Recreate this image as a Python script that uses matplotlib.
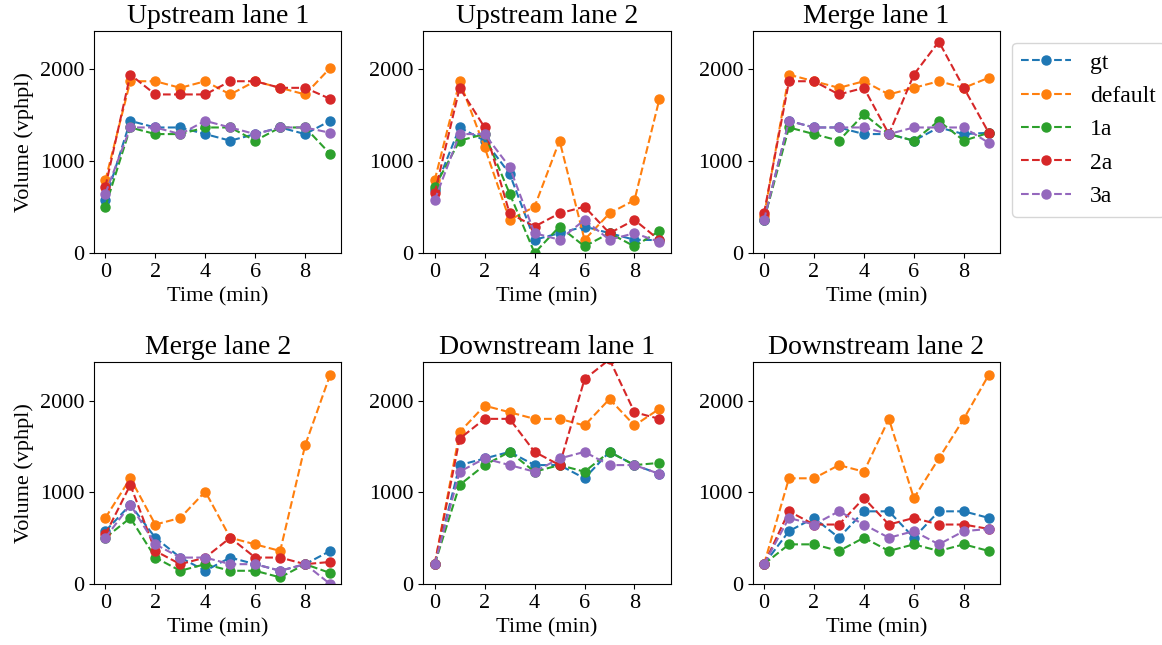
import numpy as np
import matplotlib
matplotlib.use("Agg")
import matplotlib.pyplot as plt

plt.rcParams["font.family"] = ["Liberation Serif", "DejaVu Serif"]

times = list(range(10))
methods = ["gt", "default", "1a", "2a", "3a"]
titles = ["Upstream lane 1", "Upstream lane 2", "Merge lane 1",
          "Merge lane 2", "Downstream lane 1", "Downstream lane 2"]

# volume (vphpl) per panel, per method
up1 = {
    "gt":      [576, 1440, 1368, 1368, 1296, 1224, 1296, 1368, 1296, 1440],
    "default": [792, 1872, 1872, 1800, 1872, 1728, 1872, 1800, 1728, 2016],
    "1a":      [504, 1368, 1296, 1296, 1368, 1368, 1224, 1368, 1368, 1080],
    "2a":      [720, 1944, 1728, 1728, 1728, 1872, 1872, 1800, 1800, 1680],
    "3a":      [648, 1368, 1368, 1296, 1440, 1368, 1296, 1368, 1368, 1310],
}
up2 = {
    "gt":      [690, 1368, 1224, 864, 144, 216, 288, 216, 144, 140],
    "default": [792, 1872, 1152, 360, 504, 1224, 144, 432, 576, 1680],
    "1a":      [720, 1224, 1296, 648, 0, 288, 72, 216, 72, 240],
    "2a":      [650, 1800, 1368, 432, 288, 432, 504, 216, 360, 140],
    "3a":      [576, 1296, 1296, 936, 216, 144, 360, 144, 216, 120],
}
merge1 = {
    "gt":      [360, 1440, 1368, 1368, 1296, 1296, 1224, 1368, 1296, 1310],
    "default": [400, 1944, 1872, 1800, 1872, 1728, 1800, 1872, 1800, 1910],
    "1a":      [360, 1368, 1296, 1224, 1512, 1296, 1224, 1440, 1224, 1310],
    "2a":      [432, 1872, 1872, 1728, 1800, 1296, 1944, 2304, 1800, 1310],
    "3a":      [360, 1440, 1368, 1368, 1368, 1296, 1368, 1368, 1368, 1200],
}
merge2 = {
    "gt":      [576, 864, 504, 288, 144, 288, 216, 144, 216, 360],
    "default": [720, 1152, 648, 720, 1008, 504, 432, 360, 1512, 2280],
    "1a":      [504, 720, 288, 144, 216, 144, 144, 72, 216, 120],
    "2a":      [540, 1080, 360, 216, 288, 504, 288, 288, 216, 240],
    "3a":      [504, 864, 432, 288, 288, 216, 216, 144, 216, 0],
}
down1 = {
    "gt":      [216, 1296, 1368, 1440, 1296, 1296, 1152, 1440, 1296, 1200],
    "default": [216, 1656, 1944, 1872, 1800, 1800, 1728, 2016, 1728, 1910],
    "1a":      [216, 1080, 1296, 1440, 1224, 1296, 1224, 1440, 1296, 1320],
    "2a":      [216, 1584, 1800, 1800, 1440, 1296, 2232, 2448, 1872, 1800],
    "3a":      [216, 1224, 1368, 1296, 1224, 1368, 1440, 1296, 1296, 1200],
}
down2 = {
    "gt":      [216, 576, 720, 504, 792, 792, 504, 792, 792, 720],
    "default": [216, 1152, 1152, 1296, 1224, 1800, 936, 1368, 1800, 2280],
    "1a":      [216, 432, 432, 360, 504, 360, 432, 360, 432, 360],
    "2a":      [216, 792, 648, 648, 936, 648, 720, 648, 648, 600],
    "3a":      [216, 720, 648, 792, 648, 504, 576, 432, 576, 600],
}
panels = [up1, up2, merge1, merge2, down1, down2]

fig, axes = plt.subplots(2, 3, figsize=(11.62, 6.45), dpi=100)
plt.subplots_adjust(left=0.081, right=0.8606, top=0.952, bottom=0.0946,
                    wspace=0.332, hspace=0.491)

for i, (ax, data, title) in enumerate(zip(axes.flat, panels, titles)):
    for m in methods:
        ax.plot(times, data[m], "o--", label=m, markersize=6.5)
    ax.set_title(title, fontsize=20)
    ax.set_xlabel("Time (min)", fontsize=16)
    if i % 3 == 0:
        ax.set_ylabel("Volume (vphpl)", fontsize=16)
    ax.set_ylim(0, 2420)
    ax.set_yticks([0, 1000, 2000])
    ax.set_xticks([0, 2, 4, 6, 8])
    ax.tick_params(labelsize=16)

axes[0, 2].legend(loc="upper left", bbox_to_anchor=(1, 1), fontsize=17,
                  handlelength=2.1)

plt.savefig("out.png", dpi=100)
plt.close()
